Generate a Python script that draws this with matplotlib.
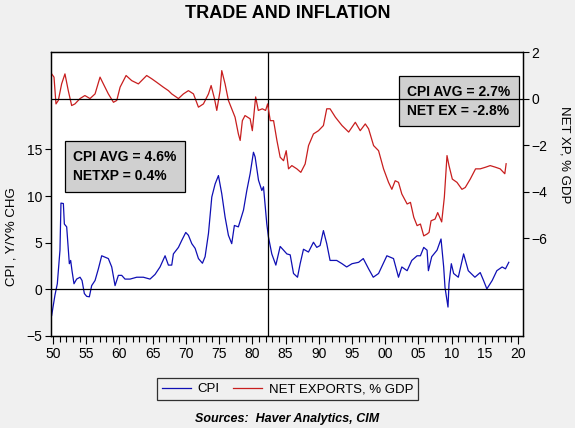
import numpy as np
import matplotlib
matplotlib.use("Agg")
import matplotlib.pyplot as plt
from matplotlib.ticker import MultipleLocator, FixedLocator

plt.rcParams['font.family'] = ['Liberation Sans', 'DejaVu Sans']

# CPI, y/y % change
cpi_year = [1949.8, 1950.3, 1950.65, 1951.05, 1951.2, 1951.56, 1951.71, 1952.06, 1952.46, 1952.66,
            1952.86, 1953.16, 1953.56, 1954.07, 1954.37, 1954.72, 1955.07, 1955.47, 1955.82, 1956.33,
            1956.83, 1957.33, 1957.83, 1958.33, 1958.84, 1959.34, 1959.84, 1960.34, 1960.84, 1961.6,
            1962.6, 1963.6, 1964.6, 1965.36, 1966.11, 1966.87, 1967.37, 1967.87, 1968.12, 1968.88,
            1969.38, 1969.98, 1970.38, 1970.89, 1971.39, 1971.89, 1972.49, 1972.89, 1973.4, 1973.9,
            1974.4, 1974.9, 1975.4, 1975.9, 1976.4, 1976.9, 1977.3, 1977.9, 1978.67, 1979.17,
            1979.67, 1980.17, 1980.42, 1980.93, 1981.43, 1981.68, 1982.18, 1982.43, 1982.93, 1983.54,
            1984.19, 1984.7, 1985.2, 1985.7, 1986.2, 1986.8, 1987.2, 1987.7, 1988.45, 1989.2,
            1989.7, 1990.2, 1990.7, 1991.2, 1991.7, 1992.7, 1993.5, 1994.2, 1995.0, 1996.0,
            1996.7, 1997.5, 1998.2, 1999.0, 2000.25, 2001.25, 2002.0, 2002.5, 2003.3, 2004.0,
            2004.8, 2005.3, 2005.8, 2006.3, 2006.5, 2007.0, 2007.8, 2008.4, 2008.8, 2009.0,
            2009.45, 2009.6, 2009.95, 2010.3, 2011.0, 2011.8, 2012.5, 2013.5, 2014.3, 2014.8,
            2015.3, 2016.1, 2016.8, 2017.6, 2018.1, 2018.6]
cpi_val = [-2.8, -0.6, 0.6, 4.2, 9.25, 9.2, 7.0, 6.7, 2.75, 3.1,
           2.0, 0.6, 1.1, 1.3, 0.95, -0.45, -0.75, -0.8, 0.4, 0.95,
           2.2, 3.6, 3.45, 3.3, 2.4, 0.4, 1.5, 1.5, 1.1, 1.1,
           1.3, 1.3, 1.1, 1.6, 2.4, 3.6, 2.6, 2.6, 3.8, 4.5,
           5.25, 6.1, 5.8, 4.9, 4.4, 3.3, 2.8, 3.5, 6.0, 9.9,
           11.3, 12.2, 10.25, 7.75, 5.8, 4.9, 6.85, 6.7, 8.5, 10.6,
           12.4, 14.7, 14.2, 11.7, 10.6, 11.0, 7.0, 5.6, 3.8, 2.6,
           4.6, 4.2, 3.8, 3.7, 1.7, 1.3, 2.75, 4.3, 4.0, 5.05,
           4.5, 4.7, 6.3, 4.9, 3.1, 3.1, 2.75, 2.4, 2.75, 2.9,
           3.3, 2.2, 1.3, 1.7, 3.6, 3.3, 1.3, 2.4, 2.0, 3.1,
           3.6, 3.6, 4.5, 4.2, 2.0, 3.5, 4.2, 5.4, 2.4, 0.2,
           -1.9, 0.6, 2.75, 1.7, 1.3, 3.8, 2.0, 1.3, 1.8, 0.95,
           0.05, 0.95, 2.0, 2.4, 2.2, 2.9]

# Net exports, % of GDP
nx_year = [1949.8, 1950.15, 1950.45, 1950.8, 1951.3, 1951.8, 1952.3, 1952.81, 1953.3, 1954.07,
           1954.8, 1955.57, 1956.33, 1957.08, 1957.58, 1958.33, 1959.1, 1959.6, 1960.1, 1961.0,
           1961.85, 1962.85, 1964.1, 1964.86, 1965.6, 1966.6, 1967.37, 1967.87, 1968.88, 1969.63,
           1970.38, 1971.14, 1971.89, 1972.64, 1973.4, 1973.8, 1974.3, 1974.65, 1975.15, 1975.4,
           1975.9, 1976.4, 1976.9, 1977.4, 1977.9, 1978.17, 1978.5, 1978.9, 1979.67, 1980.0,
           1980.5, 1980.9, 1981.5, 1982.0, 1982.3, 1982.7, 1983.2, 1983.7, 1984.19, 1984.7,
           1985.1, 1985.45, 1985.95, 1986.7, 1987.3, 1987.95, 1988.46, 1989.2, 1989.96, 1990.7,
           1991.2, 1991.7, 1992.5, 1993.5, 1994.5, 1995.5, 1996.24, 1997.0, 1997.5, 1998.25,
           1999.0, 1999.75, 2000.5, 2001.0, 2001.5, 2002.0, 2002.5, 2003.3, 2003.8, 2004.3,
           2004.8, 2005.3, 2005.8, 2006.3, 2006.6, 2006.9, 2007.5, 2007.9, 2008.5, 2008.9,
           2009.3, 2009.6, 2010.1, 2010.8, 2011.55, 2012.05, 2012.8, 2013.6, 2014.3, 2015.1,
           2015.8, 2016.6, 2017.3, 2018.0, 2018.2]
nx_val = [1.06, 0.92, -0.23, -0.08, 0.63, 1.06, 0.34, -0.3, -0.23, 0.0,
          0.13, 0.0, 0.2, 0.92, 0.63, 0.2, -0.16, -0.08, 0.49, 0.99,
          0.77, 0.63, 0.99, 0.85, 0.7, 0.49, 0.34, 0.2, 0.0, 0.2,
          0.34, 0.2, -0.37, -0.23, 0.2, 0.56, 0.0, -0.51, 0.34, 1.2,
          0.63, -0.08, -0.44, -0.8, -1.52, -1.8, -0.95, -0.73, -0.87, -1.38,
          0.07, -0.51, -0.44, -0.51, -0.23, -0.95, -0.95, -1.8, -2.52, -2.67,
          -2.24, -3.02, -2.88, -3.02, -3.17, -2.81, -2.02, -1.52, -1.38, -1.16,
          -0.44, -0.44, -0.8, -1.16, -1.44, -1.02, -1.38, -1.09, -1.3, -2.02,
          -2.24, -3.02, -3.6, -3.9, -3.53, -3.6, -4.1, -4.53, -4.46, -5.1,
          -5.46, -5.39, -5.9, -5.82, -5.75, -5.25, -5.18, -4.9, -5.3, -4.24,
          -2.45, -2.88, -3.46, -3.6, -3.9, -3.82, -3.46, -3.02, -3.02, -2.95,
          -2.88, -2.95, -3.02, -3.23, -2.8]

year_ticks = list(range(1950, 2021, 5))
year_labels = ["%02d" % (y % 100) for y in year_ticks]

bg = "#f0f0f0"
blue = "#0f0fb4"
red = "#c81e1e"

fig = plt.figure(figsize=(5.75, 4.28), dpi=100, facecolor=bg)
ax = fig.add_axes([0.0887, 0.215, 0.821, 0.6635])
ax2 = ax.twinx()

l1, = ax.plot(cpi_year, cpi_val, color=blue, lw=0.9, label="CPI")
l2, = ax2.plot(nx_year, nx_val, color=red, lw=0.9, label="NET EXPORTS, % GDP")

ax.axhline(0, color="black", lw=0.9)
ax2.axhline(0, color="black", lw=0.9)
ax.axvline(1982.4, color="black", lw=0.9)

ax.set_xlim(1949.7, 2020.75)
ax.set_ylim(-5, 25.45)
ax2.set_ylim(-10.2, 2)

ax.xaxis.set_major_locator(FixedLocator(year_ticks))
ax.set_xticklabels(year_labels)
ax.xaxis.set_minor_locator(MultipleLocator(1))
ax.yaxis.set_major_locator(FixedLocator([-5, 0, 5, 10, 15]))
ax2.yaxis.set_major_locator(FixedLocator([-6, -4, -2, 0, 2]))

ax.tick_params(axis="x", which="major", length=6, width=0.8, labelsize=10, pad=2)
ax.tick_params(axis="x", which="minor", length=4, width=0.8)
ax.tick_params(axis="y", length=4, width=0.8, labelsize=10, pad=2)
ax2.tick_params(axis="y", length=4, width=0.8, labelsize=10, pad=2)

for a in (ax, ax2):
    for s in a.spines.values():
        s.set_linewidth(0.9)
        s.set_color("black")

ax.set_ylabel("CPI , Y/Y% CHG", fontsize=9.5)
ax2.set_ylabel("NET XP, % GDP", fontsize=9.5, rotation=-90)
ax.yaxis.set_label_coords(-0.07, 0.35)
ax2.yaxis.set_label_coords(1.1, 0.64)

box = dict(boxstyle="square,pad=0.6", facecolor="#d0d0d0", edgecolor="black", lw=0.9)
ax.text(0.047, 0.597, "CPI AVG = 4.6%\nNETXP = 0.4%", transform=ax.transAxes,
        fontsize=10, fontweight="bold", va="center", ha="left", linespacing=1.5, bbox=box)
ax.text(0.755, 0.826, "CPI AVG = 2.7%\nNET EX = -2.8%", transform=ax.transAxes,
        fontsize=10, fontweight="bold", va="center", ha="left", linespacing=1.5, bbox=box)

fig.text(0.5, 0.968, "TRADE AND INFLATION", ha="center", va="center",
         fontsize=13, fontweight="bold")

leg = fig.legend([l1, l2], ["CPI", "NET EXPORTS, % GDP"], loc="center",
                 bbox_to_anchor=(0.5, 0.091), ncol=2, frameon=True, fancybox=False,
                 fontsize=9.5, handlelength=2.2, columnspacing=1.0, borderpad=0.35,
                 handletextpad=0.5)
leg.get_frame().set_edgecolor("black")
leg.get_frame().set_facecolor(bg)
leg.get_frame().set_linewidth(0.9)

fig.text(0.5, 0.021, "Sources:  Haver Analytics, CIM", ha="center", va="center",
         fontsize=9, fontweight="bold", fontstyle="italic")

fig.savefig("out.png", dpi=100, facecolor=bg)
